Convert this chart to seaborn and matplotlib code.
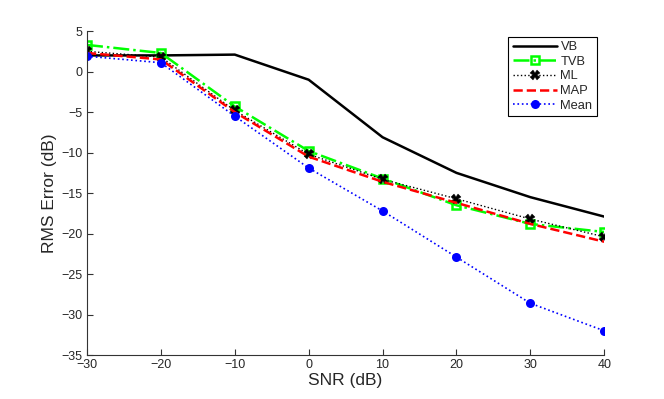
import matplotlib
matplotlib.use("Agg")
import matplotlib.pyplot as plt
import seaborn as sns
import pandas as pd

snr = [-30, -20, -10, 0, 10, 20, 30, 40]
vb = [2.0, 2.0, 2.1, -1.0, -8.1, -12.5, -15.5, -17.9]
tvb = [3.3, 2.3, -4.3, -9.8, -13.2, -16.5, -18.8, -19.8]
ml = [2.5, 1.8, -4.8, -10.2, -13.3, -15.7, -18.2, -20.4]
map_ = [2.3, 1.5, -5.0, -10.5, -13.6, -16.2, -18.8, -21.0]
mean = [1.9, 1.1, -5.5, -11.9, -17.2, -22.9, -28.6, -32.0]

xticks = [-30, -20, -10, 0, 10, 20, 30, 40]
yticks = [5, 0, -5, -10, -15, -20, -25, -30, -35]

sns.set_style("white")
plt.rcParams['font.family'] = ['Liberation Sans', 'DejaVu Sans']

fig = plt.figure(figsize=(6.64, 3.99), dpi=100)
ax = fig.add_axes([0.131, 0.110, 0.779, 0.812])

series = [
    ("VB", vb, dict(color="black", linestyle="-", linewidth=1.8, marker=None)),
    ("TVB", tvb, dict(color="#00ff00", linestyle="-.", linewidth=1.8, marker="s",
                      markersize=5.5, markerfacecolor="none", markeredgecolor="#00ff00",
                      markeredgewidth=1.8)),
    ("ML", ml, dict(color="black", linestyle=":", linewidth=1.0, marker="X",
                    markersize=6.5, markeredgecolor="black", markeredgewidth=0.3)),
    ("MAP", map_, dict(color="red", linestyle="--", linewidth=1.8, marker=None)),
    ("Mean", mean, dict(color="blue", linestyle=":", linewidth=1.2, marker="o",
                        markersize=6.5, markeredgecolor="blue", markeredgewidth=0)),
]

for name, vals, kw in series:
    df = pd.DataFrame({"SNR": snr, "RMS": vals})
    sns.lineplot(data=df, x="SNR", y="RMS", ax=ax, label=name, **kw)

ax.set_xlim(-30, 40)
ax.set_ylim(-35, 5)
ax.set_xticks(xticks)
ax.set_yticks(yticks)
ax.set_xticklabels([str(t).replace('-', '\u2212') for t in xticks])
ax.set_yticklabels([str(t).replace('-', '\u2212') for t in yticks])
ax.tick_params(axis='both', direction='in', length=4, width=0.8, labelsize=9,
               bottom=True, left=True, top=False, right=False, color='#333333', pad=3)
ax.set_xlabel("SNR (dB)", fontsize=12.5, labelpad=1)
ax.set_ylabel("RMS Error (dB)", fontsize=12.5, labelpad=3)
for s in ["top", "right"]:
    ax.spines[s].set_visible(False)
for s in ["left", "bottom"]:
    ax.spines[s].set_color('#333333')
    ax.spines[s].set_linewidth(0.8)

leg = ax.legend(loc="upper right", bbox_to_anchor=(0.986, 0.983), fontsize=9.3,
                frameon=True, fancybox=False, edgecolor="black", framealpha=1,
                handlelength=3.4, borderpad=0.35, labelspacing=0.2, handletextpad=0.3,
                borderaxespad=0)
leg.get_frame().set_linewidth(0.8)

fig.savefig("out.png", dpi=100)
